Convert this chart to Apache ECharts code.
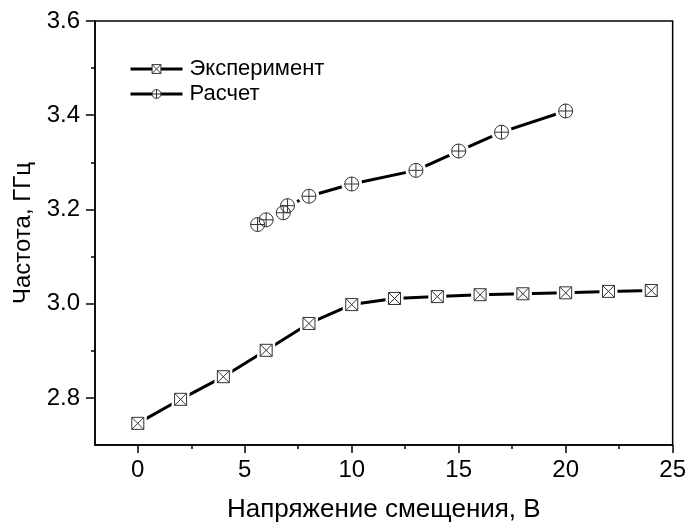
<!DOCTYPE html>
<html><head><meta charset="utf-8">
<script src="https://cdn.jsdelivr.net/npm/echarts@6/dist/echarts.min.js"></script>
<style>html,body{margin:0;padding:0;background:#fff}#c{width:689px;height:528px}</style>
</head><body><div id="c"></div>
<script>
const expX = [0, 2, 4, 6, 8, 10, 12, 14, 16, 18, 20, 22, 24];
const expY = [2.746, 2.797, 2.845, 2.901, 2.958, 2.998, 3.011, 3.015, 3.019, 3.021, 3.023, 3.026, 3.028];
const calcX = [5.6, 6, 6.8, 7, 8, 10, 13, 15, 17, 20];
const calcY = [3.168, 3.178, 3.193, 3.208, 3.228, 3.254, 3.283, 3.324, 3.364, 3.409];
const xMajor = [0, 5, 10, 15, 20, 25];
const xMinor = [2.5, 7.5, 12.5, 17.5, 22.5];
const yMajor = [2.8, 3.0, 3.2, 3.4, 3.6];
const yMinor = [2.9, 3.1, 3.3, 3.5];
const names = ['Эксперимент', 'Расчет'];
const xName = 'Напряжение смещения, В';
const yName = 'Частота, ГГц';

const FONT = 'Arial, "Liberation Sans", sans-serif';
const symSq = 'path://M0,0L12,0L12,12L0,12Z M0,0L12,12 M12,0L0,12';
const symCi = 'path://M0,7A7,7,0,1,1,14,7A7,7,0,1,1,0,7Z M7,0L7,14 M0,7L14,7';
const pts = (xs, ys) => xs.map((x, i) => [x, ys[i]]);
const expData = pts(expX, expY), calcData = pts(calcX, calcY);
const axisCol = '#000';

const chart = echarts.init(document.getElementById('c'), null, {renderer: 'canvas'});
chart.setOption({
  animation: false,
  backgroundColor: '#fff',
  textStyle: {fontFamily: FONT},
  grid: {left: 95, right: 16, top: 21, bottom: 82, show: true, borderColor: axisCol, borderWidth: 1.5, backgroundColor: 'transparent'},
  legend: {
    left: 129, top: 58, orient: 'vertical', itemWidth: 52, itemHeight: 11, itemGap: 3, padding: 0,
    lineStyle: {color: '#000', width: 3},
    textStyle: {fontFamily: FONT, fontSize: 22, color: '#000', padding: [0, 0, 0, 2]},
    data: names.map(n => ({name: n, itemStyle: {color: '#fff', borderColor: '#333', borderWidth: 1}}))
  },
  xAxis: [{
    type: 'value', min: -2, max: 25,
    name: xName, nameLocation: 'middle', nameGap: 52,
    nameTextStyle: {fontFamily: FONT, fontSize: 26, color: '#000'},
    axisLine: {show: true, onZero: false, lineStyle: {color: axisCol, width: 1.5}},
    axisTick: {show: true, inside: false, length: 8, customValues: xMajor, lineStyle: {color: axisCol, width: 1.5}},
    axisLabel: {customValues: xMajor, fontFamily: FONT, fontSize: 24, color: '#000', margin: 13},
    splitLine: {show: false}
  }, {
    type: 'value', min: -2, max: 25, position: 'bottom', gridIndex: 0,
    axisLine: {show: false, onZero: false},
    axisTick: {show: true, length: 4, customValues: xMinor, lineStyle: {color: axisCol, width: 1.5}},
    axisLabel: {show: false}, splitLine: {show: false}
  }],
  yAxis: [{
    type: 'value', min: 2.7, max: 3.6,
    name: yName, nameLocation: 'middle', nameGap: 55,
    nameTextStyle: {fontFamily: FONT, fontSize: 24, color: '#000'},
    axisLine: {show: true, onZero: false, lineStyle: {color: axisCol, width: 1.5}},
    axisTick: {show: true, length: 9, customValues: yMajor, lineStyle: {color: axisCol, width: 1.5}},
    axisLabel: {customValues: yMajor, fontFamily: FONT, fontSize: 24, color: '#000', margin: 15, formatter: v => v.toFixed(1)},
    splitLine: {show: false}
  }, {
    type: 'value', min: 2.7, max: 3.6, position: 'left', gridIndex: 0,
    axisLine: {show: false, onZero: false},
    axisTick: {show: true, length: 4, customValues: yMinor, lineStyle: {color: axisCol, width: 1.5}},
    axisLabel: {show: false}, splitLine: {show: false}
  }],
  series: [
    {name: names[0], type: 'line', data: expData, showSymbol: false, symbol: symSq, symbolSize: 12,
     lineStyle: {color: '#000', width: 3}, itemStyle: {color: '#000'}, z: 2},
    {name: names[1], type: 'line', data: calcData, showSymbol: false, symbol: symCi, symbolSize: 14,
     lineStyle: {color: '#000', width: 3}, itemStyle: {color: '#000'}, z: 2},
    {name: 'halo1', type: 'scatter', data: expData, symbol: 'rect', symbolSize: 18, silent: true,
     itemStyle: {color: '#fff', opacity: 1}, z: 3},
    {name: 'halo2', type: 'scatter', data: calcData, symbol: 'circle', symbolSize: 21, silent: true,
     itemStyle: {color: '#fff', opacity: 1}, z: 3},
    {name: 'm1', type: 'scatter', data: expData, symbol: symSq, symbolSize: 12, silent: true,
     itemStyle: {color: 'rgba(0,0,0,0)', borderColor: '#333', borderWidth: 1, opacity: 1}, z: 4},
    {name: 'm2', type: 'scatter', data: calcData, symbol: symCi, symbolSize: 14, silent: true,
     itemStyle: {color: 'rgba(0,0,0,0)', borderColor: '#333', borderWidth: 1, opacity: 1}, z: 4}
  ]
});
</script></body></html>
